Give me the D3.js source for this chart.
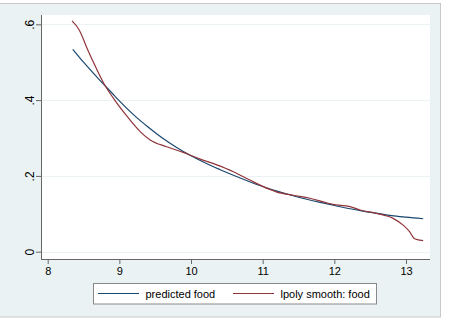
<!DOCTYPE html>
<html>
<head>
<meta charset="utf-8">
<script src="https://cdn.jsdelivr.net/npm/d3@7"></script>
<style>
  body { margin: 0; background: #fff; }
  text { font-family: "Liberation Sans", Arial, sans-serif; }
</style>
</head>
<body>
<div id="chart"></div>
<script>
// predicted food (blue)
var predX = [8.35, 8.5, 8.7, 8.9, 9.0, 9.2, 9.4, 9.6, 9.8, 10.0, 10.2, 10.4, 10.6, 10.8, 11.0, 11.2, 11.4, 11.6, 11.8, 12.0, 12.2, 12.4, 12.6, 12.8, 13.0, 13.24];
var predY = [0.534, 0.500, 0.458, 0.418, 0.398, 0.361, 0.329, 0.300, 0.275, 0.253, 0.234, 0.217, 0.201, 0.186, 0.172, 0.160, 0.149, 0.139, 0.130, 0.122, 0.114, 0.107, 0.101, 0.095, 0.091, 0.087];

// lpoly smooth: food (red)
var smoothX = [8.34, 8.44, 8.54, 8.64, 8.78, 8.95, 9.10, 9.29, 9.43, 9.66, 9.89, 10.12, 10.36, 10.59, 10.82, 11.09, 11.19, 11.43, 11.66, 11.89, 11.98, 12.22, 12.36, 12.59, 12.82, 12.96, 13.05, 13.12, 13.24];
var smoothY = [0.609, 0.585, 0.541, 0.499, 0.445, 0.396, 0.359, 0.317, 0.295, 0.277, 0.262, 0.245, 0.229, 0.211, 0.189, 0.165, 0.158, 0.149, 0.141, 0.129, 0.125, 0.119, 0.110, 0.101, 0.088, 0.070, 0.053, 0.034, 0.029];

var xTicks = [8, 9, 10, 11, 12, 13];
var yTicks = [0, 0.2, 0.4, 0.6];
var yTickLabels = ["0", ".2", ".4", ".6"];
var legendLabels = ["predicted food", "lpoly smooth: food"];
var colors = ["#1a476f", "#90353b"];

var w = 450, h = 320;
var plot = {left: 41, right: 430, top: 15, bottom: 259};

var svg = d3.select("#chart").append("svg")
    .attr("width", w)
    .attr("height", h);

// graph region
svg.append("rect")
    .attr("x", -1).attr("y", 3.5)
    .attr("width", 441.5).attr("height", 313.5)
    .attr("fill", "#eaf2f3")
    .attr("stroke", "#c8c8c8");

svg.append("rect")
    .attr("x", plot.left).attr("y", plot.top)
    .attr("width", plot.right - plot.left).attr("height", plot.bottom - plot.top)
    .attr("fill", "#fff");

var x = d3.scaleLinear().domain([8, 13]).range([47.7, 406]);
var y = d3.scaleLinear().domain([0, 0.6]).range([251.7, 24.3]);

// grid
svg.append("g").selectAll("line")
    .data(yTicks)
    .enter().append("line")
    .attr("x1", plot.left).attr("x2", plot.right)
    .attr("y1", function(d) { return Math.round(y(d)) + 0.5; })
    .attr("y2", function(d) { return Math.round(y(d)) + 0.5; })
    .attr("stroke", "#eaf2f3")
    .attr("stroke-width", 1);

// axes
var yAxis = d3.axisLeft(y)
    .tickValues(yTicks)
    .tickSize(5)
    .tickFormat(function(d, i) { return yTickLabels[i]; });

var gy = svg.append("g")
    .attr("transform", "translate(" + plot.left + ",0)")
    .call(yAxis);
gy.select(".domain").attr("d", "M0.5," + plot.top + "V" + plot.bottom + ".5");
gy.selectAll(".tick line").attr("stroke", "#666");
gy.selectAll(".tick text")
    .attr("x", 0).attr("dy", 0)
    .attr("transform", "translate(-7,0) rotate(-90)")
    .attr("text-anchor", "middle")
    .style("font-size", "12px")
    .attr("fill", "#000");

var xAxis = d3.axisBottom(x)
    .tickValues(xTicks)
    .tickSize(5)
    .tickFormat(d3.format("d"));

var gx = svg.append("g")
    .attr("transform", "translate(0," + plot.bottom + ")")
    .call(xAxis);
gx.select(".domain").attr("d", "M" + plot.left + ",0.5H" + plot.right);
gx.selectAll(".tick line").attr("stroke", "#666");
gx.selectAll(".tick text")
    .attr("y", 8)
    .style("font-size", "11px")
    .attr("fill", "#000");
svg.selectAll(".domain").attr("stroke", "#666");

// lines
var line = d3.line()
    .x(function(d) { return x(d[0]); })
    .y(function(d) { return y(d[1]); })
    .curve(d3.curveMonotoneX);

var series = [d3.zip(predX, predY), d3.zip(smoothX, smoothY)];

svg.append("g").selectAll("path")
    .data(series)
    .enter().append("path")
    .attr("d", line)
    .attr("fill", "none")
    .attr("stroke", function(d, i) { return colors[i]; })
    .attr("stroke-width", 1.2);

// legend
var lg = svg.append("g");
lg.append("rect")
    .attr("x", 93.5).attr("y", 283.5)
    .attr("width", 283).attr("height", 20.5)
    .attr("fill", "#fff")
    .attr("stroke", "#888");

var legendX = [98, 233];
var items = lg.selectAll(".item")
    .data(legendLabels)
    .enter().append("g")
    .attr("transform", function(d, i) { return "translate(" + legendX[i] + ",293.5)"; });
items.append("line")
    .attr("x1", 0).attr("x2", 41)
    .attr("stroke", function(d, i) { return colors[i]; })
    .attr("stroke-width", 1.2);
items.append("text")
    .attr("x", 47.5).attr("y", 4)
    .style("font-size", "11px")
    .text(function(d) { return d; });
</script>
</body>
</html>
